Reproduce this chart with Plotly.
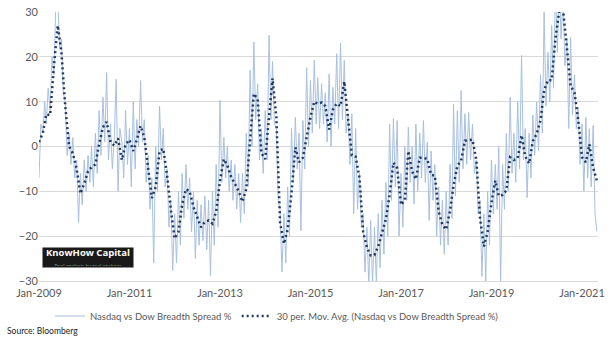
import pandas as pd
import plotly.graph_objects as go

# Monthly 30-period moving average values (Jan-2009 .. May-2021)
ma_values = [1, 3, 7.2, 7, 17.8, 27, 21, 9, 0, -1.5,
 -5, -10.5, -8.3, -5.5, -4.6, -4, 0.5, 4.3, 5.5, 1,
 0.2, 1.8, -3, 0.5, 1.5, -1, 1.5, 4.6, 2, -5.5,
 -11.5, -9, -1, -0.5, -6.5, -14, -20.5, -19, -13, -9.5,
 -10, -13.5, -15.8, -18, -16.8, -16.5, -17.2, -14.5, -7.6, -2.8,
 -4.2, -6.8, -8.3, -10, -12.3, -9.5, 1.5, 11.8, 10.5, -1.5,
 -2.8, 7.5, 15.2, 6.5, -17, -21.7, -18.5, -10.5, -0.2, -3.5,
 -2.5, 2, 6.5, 10, 9.5, 9.8, 9, 3.8, 8.2, 9.6,
 9, 14.5, 6, -2, -2.3, -7, -19, -22.5, -24.3, -24.2,
 -22.3, -19.4, -16.2, -10.8, -3.6, -4.8, -13, -12, -1, -5.6,
 -7.3, -2.5, -2.5, -2.8, -6.3, -6.5, -14.5, -17.5, -18.5, -14.3,
 -8.7, -4.3, -3.1, 1.3, 1.4, 1.5, -3, -16, -22.3, -19,
 -12.5, -7.6, -11, -10.8, -9.8, -2.4, -3, -2.6, 2.5, -2.2,
 -3.8, 1.2, 2.8, 5.8, 12.5, 14.8, 14.8, 24.2, 30.3, 30.5,
 22, 13.5, 12, 6, -2.4, -3.5, 0.5, -4.8, -7.6]

# Half-monthly spread readings (1st and 16th of each month)
spread_values = [
 -7, 5, 3, 10, 5, 13, 8, 20, 16, 31, 34, 22, 24, 12, 10, -2, 3, -4, 2, -7,
 -3, -17, -6, -13, -3, -10, -2, -8, 0, -9, 3, -6, 8, -2, 11, 1, 16.5, -3, 5, -5,
 2, 15, -10, 4, 1, -7, 8, -4, 4, -9, 10, -5, 6, 0, 14.7, 1, 6, -8, -2, -14,
 -7, -26, 0, -10, 9, -3, 4, -9, -5, -18, -12, -27.7, -15, -26, -10, -22, -6, -16, -4, -14,
 -7, -19, -10, -25, -12, -22, -13, -21, -11, -23, -12, -28.8, -10, -22, -4, -18, 10.3, -8, 2, -7,
 0, -10, -3, -12, -4, -14, -6, -17, -6, -15, 3, -9, 17, 0, 23.3, 6, 14, -3, 4, -6,
 8, -3, 24.8, 6, 19, 5, 4, -12, -14, -28, -15, -26, -9, -20, 4, -8, 6.5, -5, 3, -18.8,
 5.8, -5, 17.6, 0, 14.7, 3, 19.2, 5, 15.4, 4, 14, 5, 12, 1, 16.2, 0, 13.2, 5, 20.7, 4,
 23, 6, 19.2, 3, 7.3, -4, 7.3, -15, 4, -14, -6, -18, -15, -28, -18, -31, -16.5, -31, -18, -31,
 -15, -27, -12, -24, -8, -20, 5, -12, 6.2, -9, 5.8, -20, -6, -18, 0, -12, 4.3, -8, 0, -12.8,
 5, -10, 3, -7, 5.8, -8, 1, -16.5, -1, -12, -4, -20, -9, -22, -12, -24, -10, -22, -4, -16,
 9.5, -11, 8, -8, 12.5, -5, 7.3, -4, 7.6, -3, 5, -6, -3, -15, -12, -29, -15, -30, -10, -22,
 -3, -15, -4, -14, 0, -31, -4, -14, 2.9, -10, 11, -6, 3, -8, 10, -5, 20.3, -3, 4, -11.4,
 3, -7, 7, -2, 10, -1, 16, 3, 30, 9, 21, 10, 27, 13, 36, 21, 37, 24, 34, 18,
 24, 4, 24.3, 7, 16, 4, 8.8, -4, 5, -10, 6.5, -7, 4, -9, 4.7, -15, -19]

ma_dates = pd.date_range("2009-01-01", periods=len(ma_values), freq="MS")
spread_dates = []
for d in ma_dates:
    spread_dates.append(d)
    spread_dates.append(d + pd.Timedelta(days=15))
spread_dates = spread_dates[:len(spread_values)]

y_ticks = [-30, -20, -10, 0, 10, 20, 30]
series_names = ["Nasdaq vs Dow Breadth Spread %",
                "30 per. Mov. Avg. (Nasdaq vs Dow Breadth Spread %)"]

FONT = "Lato, 'Liberation Sans', sans-serif"

fig = go.Figure()
fig.add_trace(go.Scatter(x=spread_dates, y=spread_values, mode="lines",
                         name=series_names[0],
                         line=dict(color="#A8C0E0", width=1)))
fig.add_trace(go.Scatter(x=ma_dates, y=ma_values, mode="lines",
                         name=series_names[1],
                         line=dict(color="#1F3864", width=2.5, dash="2px,3px")))

fig.update_layout(
    width=612, height=355,
    margin=dict(l=39, r=14, t=12, b=74, autoexpand=False),
    paper_bgcolor="white", plot_bgcolor="white",
    font=dict(family=FONT, size=11, color="#595959"),
    showlegend=True,
    legend=dict(orientation="h", x=0.0197, xanchor="left", y=-0.13, yanchor="middle",
                font=dict(size=9.5, color="#595959"), bgcolor="rgba(0,0,0,0)"),
    xaxis=dict(type="date", range=["2009-01-01", "2021-05-10"], automargin=False,
               tick0="2009-01-01", dtick="M24", tickformat="%b-%Y",
               ticklabelstandoff=2,
               showgrid=False, showline=True, linecolor="#D9D9D9", linewidth=1,
               ticks="", zeroline=False, tickfont=dict(size=11, color="#595959")),
    yaxis=dict(range=[-30, 30], tickvals=y_ticks, showgrid=True, automargin=False,
               gridcolor="#D9D9D9", gridwidth=1, zeroline=False, showline=False,
               ticks="", tickfont=dict(size=11, color="#595959")),
)

# Logo box
fig.add_annotation(xref="paper", yref="paper", x=0.0877, y=0.0875,
                   xanchor="center", yanchor="middle",
                   text=("<b>KnowHow Capital</b><br>"
                         "<span style='font-size:5px;color:#8FB08F'>Real analysis by real analysts</span>"),
                   showarrow=False, bgcolor="#1A1A1A", width=88, height=17, borderpad=1,
                   font=dict(family="'Open Sans', sans-serif", size=9.5, color="#FFFFFF"))
fig.add_annotation(xref="paper", yref="paper", x=-0.0608, y=-0.186,
                   xanchor="left", yanchor="middle",
                   text="Source: Bloomberg", showarrow=False,
                   font=dict(family=FONT, size=8.5, color="#222222"))

fig.write_html("out.html", config={"displayModeBar": False},
               post_script="document.body.style.margin='0';document.body.style.padding='0';")
